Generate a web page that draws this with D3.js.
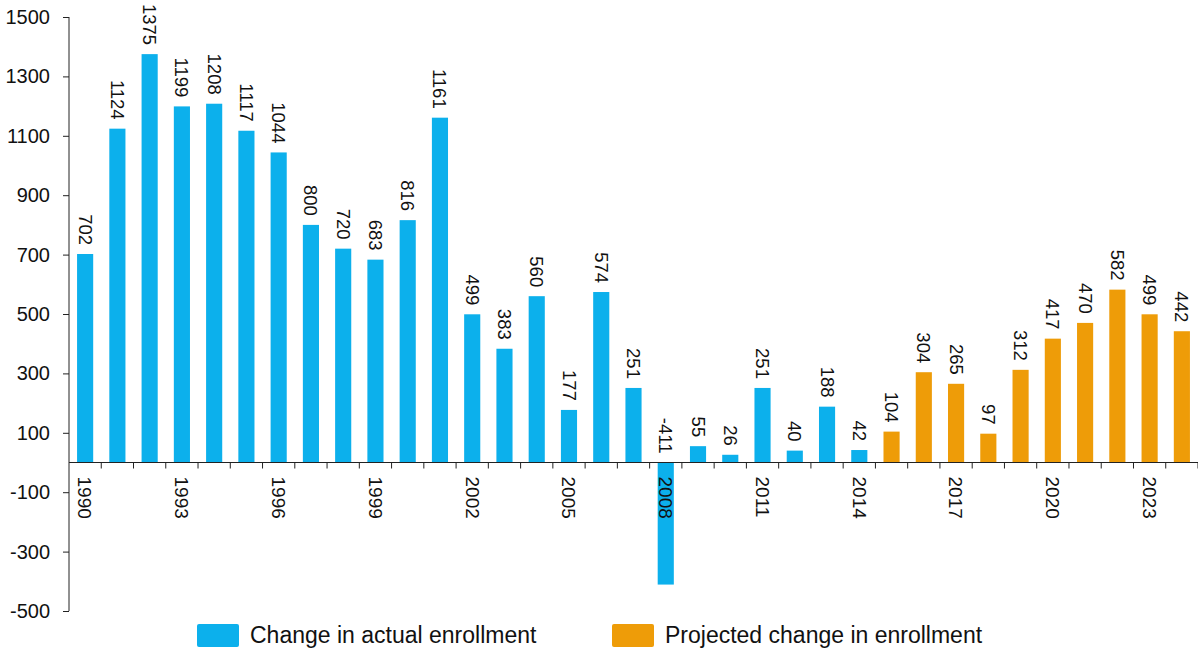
<!DOCTYPE html>
<html>
<head>
<meta charset="utf-8">
<script src="https://cdn.jsdelivr.net/npm/d3@7"></script>
<style>
  body { margin: 0; background: #fff; }
  text { font-family: "Liberation Sans", Arial, sans-serif; fill: #111; }
</style>
</head>
<body>
<svg class="chart"></svg>
<script>
const years = d3.range(1990, 2025);
const actualValues = [702, 1124, 1375, 1199, 1208, 1117, 1044, 800, 720, 683, 816, 1161,
  499, 383, 560, 177, 574, 251, -411, 55, 26, 251, 40, 188, 42];
const projectedValues = [104, 304, 265, 97, 312, 417, 470, 582, 499, 442];
const yTicks = [-500, -300, -100, 100, 300, 500, 700, 900, 1100, 1300, 1500];
const xLabelYears = [1990, 1993, 1996, 1999, 2002, 2005, 2008, 2011, 2014, 2017, 2020, 2023];
const seriesNames = ["Change in actual enrollment", "Projected change in enrollment"];

const data = years.map((yr, i) => ({
  year: yr,
  value: i < actualValues.length ? actualValues[i] : projectedValues[i - actualValues.length],
  projected: i >= actualValues.length,
}));

const width = 1198;
const height = 650;
const margin = { top: 17, right: 0, bottom: 39, left: 69 };
const colors = { actual: "#0cb0ec", projected: "#ee9c08" };

const svg = d3.select(".chart").attr("width", width).attr("height", height);

const x = d3.scaleBand()
  .domain(years)
  .range([margin.left, width - margin.right])
  .paddingInner(0.5)
  .paddingOuter(0.25);

const y = d3.scaleLinear()
  .domain([-500, 1500])
  .range([height - margin.bottom, margin.top]);

// y axis
const yAxis = svg.append("g")
  .attr("transform", `translate(${margin.left},0)`)
  .call(d3.axisLeft(y).tickValues(yTicks).tickSize(6).tickPadding(13).tickFormat((d) => String(d)));
yAxis.selectAll("line, path").attr("stroke", "#222");
yAxis.select(".domain").attr("d", `M0,${y(-500)}V${y(1500)}`);
yAxis.selectAll("text").attr("font-size", 20).attr("fill", "#111");

// bars
svg.selectAll(".bar")
  .data(data)
  .join("rect")
  .attr("class", "bar")
  .attr("x", (d) => x(d.year))
  .attr("width", x.bandwidth())
  .attr("y", (d) => y(Math.max(0, d.value)))
  .attr("height", (d) => Math.abs(y(d.value) - y(0)))
  .attr("fill", (d) => (d.projected ? colors.projected : colors.actual));

// zero axis with ticks between bars
const step = x.step();
const zeroY = y(0);
svg.append("line")
  .attr("x1", margin.left).attr("x2", width)
  .attr("y1", zeroY).attr("y2", zeroY)
  .attr("stroke", "#222").attr("stroke-width", 1.2);
svg.selectAll(".xtick")
  .data(d3.range(1, years.length + 1))
  .join("line")
  .attr("class", "xtick")
  .attr("x1", (i) => margin.left + i * step)
  .attr("x2", (i) => margin.left + i * step)
  .attr("y1", zeroY).attr("y2", zeroY + 6)
  .attr("stroke", "#222");

// x labels (rotated)
svg.selectAll(".xlabel")
  .data(xLabelYears)
  .join("text")
  .attr("class", "xlabel")
  .attr("transform", (d) => `translate(${x(d) + x.bandwidth() / 2},${zeroY + 14}) rotate(90)`)
  .attr("dy", "0.35em")
  .attr("font-size", 19)
  .text((d) => d);

// value labels (rotated)
svg.selectAll(".vlabel")
  .data(data)
  .join("text")
  .attr("class", "vlabel")
  .attr("transform", (d) => `translate(${x(d.year) + x.bandwidth() / 2},${y(Math.max(0, d.value)) - 9}) rotate(90)`)
  .attr("text-anchor", "end")
  .attr("dy", "0.35em")
  .attr("font-size", 18.5)
  .text((d) => d.value);

// legend
const legend = svg.append("g");
const legendItems = [
  { label: seriesNames[0], color: colors.actual, x: 197 },
  { label: seriesNames[1], color: colors.projected, x: 612 },
];
legendItems.forEach((d) => {
  legend.append("rect")
    .attr("x", d.x).attr("y", 624)
    .attr("width", 42).attr("height", 23)
    .attr("rx", 2)
    .attr("fill", d.color);
  legend.append("text")
    .attr("x", d.x + 53).attr("y", 643)
    .attr("font-size", 23)
    .text(d.label);
});
</script>
</body>
</html>
